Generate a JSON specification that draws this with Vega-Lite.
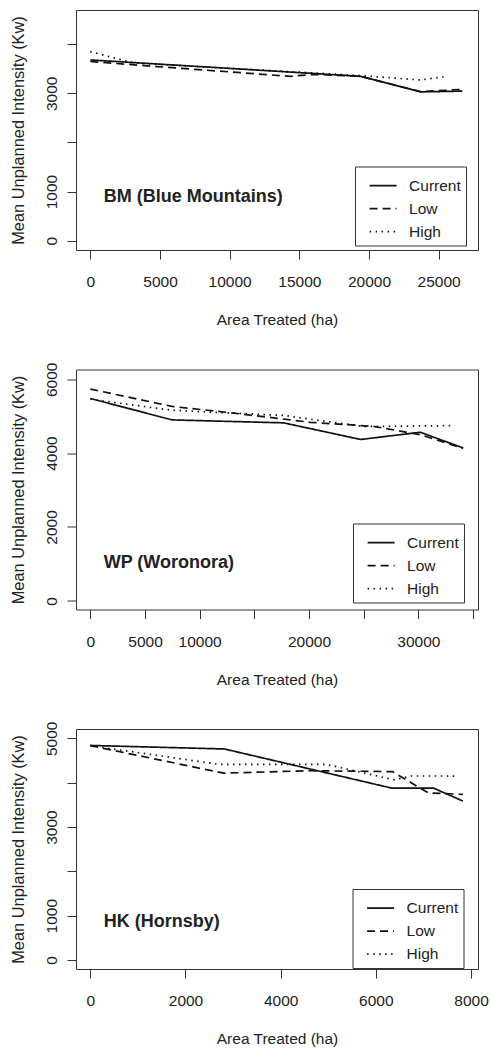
{
  "$schema": "https://vega.github.io/schema/vega-lite/v6.json",
  "background": "white",
  "padding": {"left": 10, "top": 9, "right": 10, "bottom": 0},
  "autosize": {"type": "pad"},
  "config": {
    "font": "Liberation Sans",
    "view": {"stroke": "#333", "strokeWidth": 1},
    "axis": {"domain": false, "grid": false, "tickSize": 9, "tickColor": "#333", "tickWidth": 1,
      "labelFontSize": 15.5, "labelColor": "#222", "titleFontSize": 15.5, "titleFontWeight": "normal",
      "titleColor": "#222", "labelFont": "Liberation Sans", "titleFont": "Liberation Sans", "labelOverlap": false},
    "axisX": {"labelPadding": 15.5, "titlePadding": 22.5, "labelAngle": 0},
    "axisY": {"labelAngle": 270, "labelAlign": "center", "labelBaseline": "bottom", "labelPadding": 7.5, "titlePadding": 18, "titleFontSize": 16.4},
    "legend": {"orient": "none", "title": null, "symbolType": "M-1,0H1", "symbolSize": 729, "symbolStrokeWidth": 1.7,
      "symbolStrokeColor": "#111", "padding": 4.6, "rowPadding": -10, "symbolOffset": 9, "labelOffset": 11.5, "labelFontSize": 15.5,
      "labelColor": "#222", "labelFont": "Liberation Sans", "strokeColor": "#333", "fillColor": "white"}
  },
  "datasets": {
    "lines": [
      {"region": "BM", "scenario": "Current", "x": 0, "y": 3680},
      {"region": "BM", "scenario": "Current", "x": 19400, "y": 3346},
      {"region": "BM", "scenario": "Current", "x": 23700, "y": 3030},
      {"region": "BM", "scenario": "Current", "x": 26700, "y": 3045},
      {"region": "BM", "scenario": "Low", "x": 0, "y": 3648},
      {"region": "BM", "scenario": "Low", "x": 4800, "y": 3545},
      {"region": "BM", "scenario": "Low", "x": 14350, "y": 3346},
      {"region": "BM", "scenario": "Low", "x": 16050, "y": 3387},
      {"region": "BM", "scenario": "Low", "x": 19400, "y": 3346},
      {"region": "BM", "scenario": "Low", "x": 23700, "y": 3034},
      {"region": "BM", "scenario": "Low", "x": 26700, "y": 3081},
      {"region": "BM", "scenario": "High", "x": 0, "y": 3849},
      {"region": "BM", "scenario": "High", "x": 3100, "y": 3618},
      {"region": "BM", "scenario": "High", "x": 19400, "y": 3362},
      {"region": "BM", "scenario": "High", "x": 23700, "y": 3272},
      {"region": "BM", "scenario": "High", "x": 25600, "y": 3346},
      {"region": "WP", "scenario": "Current", "x": 0, "y": 5480},
      {"region": "WP", "scenario": "Current", "x": 7470, "y": 4900},
      {"region": "WP", "scenario": "Current", "x": 17680, "y": 4820},
      {"region": "WP", "scenario": "Current", "x": 24720, "y": 4370},
      {"region": "WP", "scenario": "Current", "x": 30180, "y": 4565},
      {"region": "WP", "scenario": "Current", "x": 34100, "y": 4140},
      {"region": "WP", "scenario": "Low", "x": 0, "y": 5735},
      {"region": "WP", "scenario": "Low", "x": 7470, "y": 5265},
      {"region": "WP", "scenario": "Low", "x": 13100, "y": 5085},
      {"region": "WP", "scenario": "Low", "x": 20100, "y": 4835},
      {"region": "WP", "scenario": "Low", "x": 25900, "y": 4725},
      {"region": "WP", "scenario": "Low", "x": 30180, "y": 4500},
      {"region": "WP", "scenario": "Low", "x": 34100, "y": 4130},
      {"region": "WP", "scenario": "High", "x": 0, "y": 5460},
      {"region": "WP", "scenario": "High", "x": 7470, "y": 5160},
      {"region": "WP", "scenario": "High", "x": 17700, "y": 5020},
      {"region": "WP", "scenario": "High", "x": 25000, "y": 4720},
      {"region": "WP", "scenario": "High", "x": 33250, "y": 4745},
      {"region": "HK", "scenario": "Current", "x": 0, "y": 4840},
      {"region": "HK", "scenario": "Current", "x": 2820, "y": 4760},
      {"region": "HK", "scenario": "Current", "x": 6340, "y": 3876},
      {"region": "HK", "scenario": "Current", "x": 7215, "y": 3876},
      {"region": "HK", "scenario": "Current", "x": 7830, "y": 3585},
      {"region": "HK", "scenario": "Low", "x": 0, "y": 4835},
      {"region": "HK", "scenario": "Low", "x": 2800, "y": 4215},
      {"region": "HK", "scenario": "Low", "x": 4600, "y": 4270},
      {"region": "HK", "scenario": "Low", "x": 6350, "y": 4250},
      {"region": "HK", "scenario": "Low", "x": 7100, "y": 3770},
      {"region": "HK", "scenario": "Low", "x": 7830, "y": 3735},
      {"region": "HK", "scenario": "High", "x": 0, "y": 4835},
      {"region": "HK", "scenario": "High", "x": 2700, "y": 4414},
      {"region": "HK", "scenario": "High", "x": 4950, "y": 4414},
      {"region": "HK", "scenario": "High", "x": 6400, "y": 4061},
      {"region": "HK", "scenario": "High", "x": 6730, "y": 4151},
      {"region": "HK", "scenario": "High", "x": 7700, "y": 4150}
    ],
    "labels": [
      {"region": "BM", "label": "BM (Blue Mountains)", "x": 960, "y": 882},
      {"region": "WP", "label": "WP (Woronora)", "x": 1220, "y": 1012},
      {"region": "HK", "label": "HK (Hornsby)", "x": 280, "y": 850}
    ]
  },
  "bounds": "flush",
  "spacing": 119.5,
  "resolve": {"scale": {"x": "independent", "y": "independent", "strokeDash": "independent"}, "legend": {"strokeDash": "independent"}, "axis": {"x": "independent", "y": "independent"}},
  "vconcat": [
    {
      "width": 402, "height": 240,
      "layer": [
        {
          "data": {"name": "lines"},
          "transform": [{"filter": "datum.region === 'BM'"}],
          "mark": {"type": "line", "strokeWidth": 1.7, "color": "#111"},
          "encoding": {
            "x": {"field": "x", "type": "quantitative", "scale": {"domain": [-1029, 27824], "nice": false, "zero": false},
              "axis": {"title": "Area Treated (ha)", "values": [0, 5000, 10000, 15000, 20000, 25000], "format": "d"}},
            "y": {"field": "y", "type": "quantitative", "scale": {"domain": [-190, 4697], "nice": false, "zero": false},
              "axis": {"title": "Mean Unplanned Intensity (Kw)", "values": [0, 1000, 2000, 3000, 4000], "format": "d",
                "labelExpr": "datum.value == 2000 || datum.value == 4000 ? '' : datum.label"}},
            "strokeDash": {"field": "scenario", "type": "nominal",
              "scale": {"domain": ["Current", "Low", "High"], "range": [[1, 0], [8, 5], [1.5, 4.5]]},
              "legend": {"legendX": 279, "legendY": 156.5}}
          }
        },
        {
          "data": {"name": "labels"},
          "transform": [{"filter": "datum.region === 'BM'"}],
          "mark": {"type": "text", "align": "left", "baseline": "middle", "fontSize": 18, "fontWeight": "bold", "color": "#222"},
          "encoding": {
            "x": {"field": "x", "type": "quantitative"},
            "y": {"field": "y", "type": "quantitative"},
            "text": {"field": "label"}
          }
        }
      ]
    },
    {
      "width": 402, "height": 240,
      "layer": [
        {
          "data": {"name": "lines"},
          "transform": [{"filter": "datum.region === 'WP'"}],
          "mark": {"type": "line", "strokeWidth": 1.7, "color": "#111"},
          "encoding": {
            "x": {"field": "x", "type": "quantitative", "scale": {"domain": [-1311, 35457], "nice": false, "zero": false},
              "axis": {"title": "Area Treated (ha)", "values": [0, 5000, 10000, 15000, 20000, 25000, 30000, 35000], "format": "d",
                "labelExpr": "datum.value == 15000 || datum.value == 25000 || datum.value == 35000 ? '' : datum.label"}},
            "y": {"field": "y", "type": "quantitative", "scale": {"domain": [-235, 6265], "nice": false, "zero": false},
              "axis": {"title": "Mean Unplanned Intensity (Kw)", "values": [0, 1000, 2000, 3000, 4000, 5000, 6000], "format": "d",
                "labelExpr": "datum.value % 2000 != 0 ? '' : datum.label"}},
            "strokeDash": {"field": "scenario", "type": "nominal",
              "scale": {"domain": ["Current", "Low", "High"], "range": [[1, 0], [8, 5], [1.5, 4.5]]},
              "legend": {"legendX": 277, "legendY": 154}}
          }
        },
        {
          "data": {"name": "labels"},
          "transform": [{"filter": "datum.region === 'WP'"}],
          "mark": {"type": "text", "align": "left", "baseline": "middle", "fontSize": 18, "fontWeight": "bold", "color": "#222"},
          "encoding": {
            "x": {"field": "x", "type": "quantitative"},
            "y": {"field": "y", "type": "quantitative"},
            "text": {"field": "label"}
          }
        }
      ]
    },
    {
      "width": 402, "height": 240,
      "layer": [
        {
          "data": {"name": "lines"},
          "transform": [{"filter": "datum.region === 'HK'"}],
          "mark": {"type": "line", "strokeWidth": 1.7, "color": "#111"},
          "encoding": {
            "x": {"field": "x", "type": "quantitative", "scale": {"domain": [-301, 8147], "nice": false, "zero": false},
              "axis": {"title": "Area Treated (ha)", "values": [0, 2000, 4000, 6000, 8000], "format": "d"}},
            "y": {"field": "y", "type": "quantitative", "scale": {"domain": [-203, 5211], "nice": false, "zero": false},
              "axis": {"title": "Mean Unplanned Intensity (Kw)", "values": [0, 1000, 2000, 3000, 4000, 5000], "format": "d",
                "labelExpr": "datum.value == 2000 || datum.value == 4000 ? '' : datum.label"}},
            "strokeDash": {"field": "scenario", "type": "nominal",
              "scale": {"domain": ["Current", "Low", "High"], "range": [[1, 0], [8, 5], [1.5, 4.5]]},
              "legend": {"legendX": 276.5, "legendY": 160}}
          }
        },
        {
          "data": {"name": "labels"},
          "transform": [{"filter": "datum.region === 'HK'"}],
          "mark": {"type": "text", "align": "left", "baseline": "middle", "fontSize": 18, "fontWeight": "bold", "color": "#222"},
          "encoding": {
            "x": {"field": "x", "type": "quantitative"},
            "y": {"field": "y", "type": "quantitative"},
            "text": {"field": "label"}
          }
        }
      ]
    }
  ]
}
